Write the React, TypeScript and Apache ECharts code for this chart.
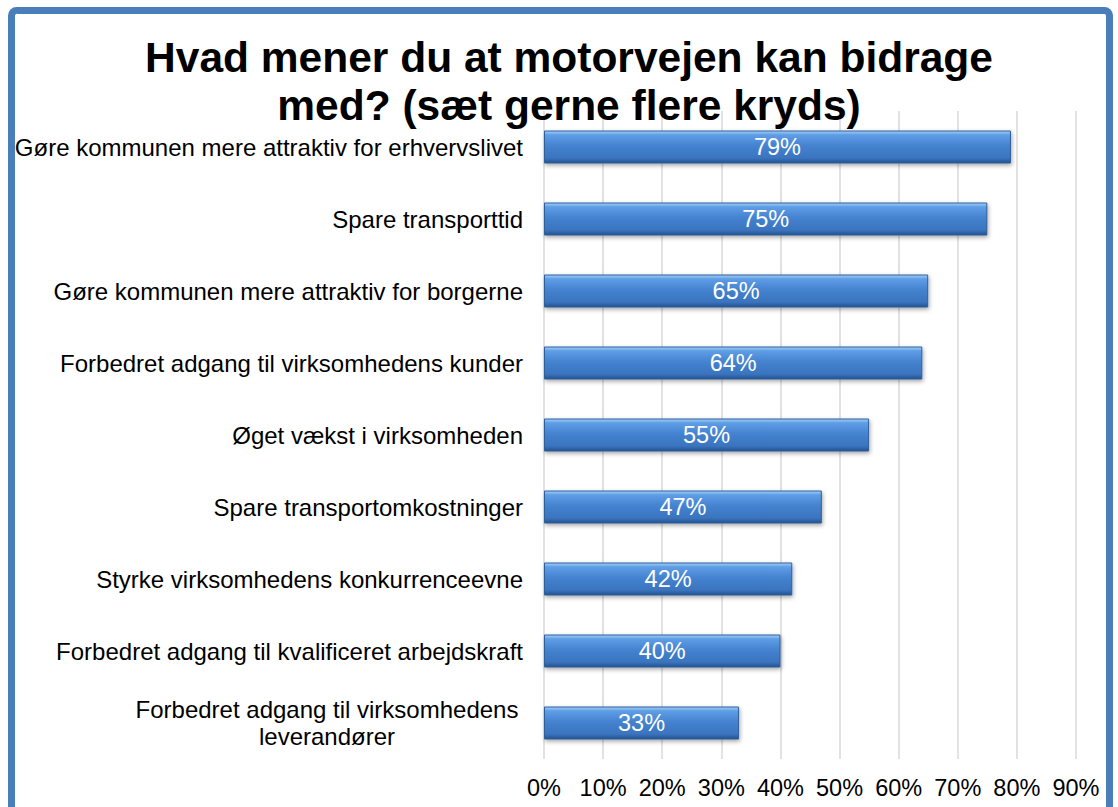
import React, { useEffect, useRef } from "react";
import * as echarts from "echarts";

const titleText = "Hvad mener du at motorvejen kan bidrage\nmed? (sæt gerne flere kryds)";
const categories = [
  "Gøre kommunen mere attraktiv for erhvervslivet",
  "Spare transporttid",
  "Gøre kommunen mere attraktiv for borgerne",
  "Forbedret adgang til virksomhedens kunder",
  "Øget vækst i virksomheden",
  "Spare transportomkostninger",
  "Styrke virksomhedens konkurrenceevne",
  "Forbedret adgang til kvalificeret arbejdskraft",
  "Forbedret adgang til virksomhedens\nleverandører",
];
const values = [79, 75, 65, 64, 55, 47, 42, 40, 33];
const axisMin = 0;
const axisMax = 90;
const axisStep = 10;

const FONT = "Arial, 'Liberation Sans', Helvetica, sans-serif";

export default function App() {
  const ref = useRef<HTMLDivElement>(null);
  useEffect(() => {
    if (!ref.current) return;
    const chart = echarts.init(ref.current, undefined, { renderer: "svg" });
    chart.setOption({
      animation: false,
      backgroundColor: "#ffffff",
      title: {
        text: titleText,
        left: 564,
        textAlign: "center",
        top: 28,
        textStyle: {
          fontFamily: FONT,
          fontSize: 42.5,
          fontWeight: "bold",
          color: "#000000",
          lineHeight: 48,
        },
      },
      graphic: [
        {
          type: "rect",
          z: 100,
          silent: true,
          shape: { x: 11.5, y: 10.5, width: 1098, height: 900, r: 5 },
          style: { fill: "none", stroke: "#4A7EBB", lineWidth: 7 },
        },
      ],
      grid: { left: 544, right: 42, top: 111, bottom: 48, containLabel: false },
      xAxis: {
        type: "value",
        min: axisMin,
        max: axisMax,
        interval: axisStep,
        axisLine: { show: false },
        axisTick: { show: false },
        axisLabel: {
          formatter: "{value}%",
          fontFamily: FONT,
          fontSize: 23.5,
          color: "#000000",
          margin: 17,
        },
        splitLine: { show: true, lineStyle: { color: "#D9D9D9", width: 1.5 } },
      },
      yAxis: {
        type: "category",
        data: categories,
        inverse: true,
        axisLine: { show: false },
        axisTick: { show: false },
        splitLine: { show: false },
        axisLabel: {
          fontFamily: FONT,
          fontSize: 24,
          color: "#000000",
          margin: 21,
          lineHeight: 27,
          formatter: (v: string) => {
            if (v.indexOf("\n") >= 0) {
              return v
                .split("\n")
                .map((l) => "{w|" + l + "}")
                .join("\n");
            }
            return v;
          },
          rich: {
            w: {
              width: 392,
              align: "center",
              fontFamily: FONT,
              fontSize: 24,
              color: "#000000",
              lineHeight: 27,
            },
          },
        },
      },
      series: [
        {
          type: "bar",
          data: values,
          barWidth: 33,
          itemStyle: {
            color: new echarts.graphic.LinearGradient(0, 0, 0, 1, [
              { offset: 0, color: "#A6D0F8" },
              { offset: 0.12, color: "#5F9EE6" },
              { offset: 0.45, color: "#4583D0" },
              { offset: 0.85, color: "#3A74BE" },
              { offset: 1, color: "#23528C" },
            ]),
            borderColor: "#2F5E9A",
            borderWidth: 1,
            shadowColor: "rgba(0,0,0,0.35)",
            shadowBlur: 4,
            shadowOffsetX: 1,
            shadowOffsetY: 2,
          },
          label: {
            show: true,
            position: "inside",
            formatter: "{c}%",
            fontFamily: FONT,
            fontSize: 23.5,
            color: "#ffffff",
          },
        },
      ],
    });
    return () => chart.dispose();
  }, []);
  return (
    <div
      style={{
        position: "fixed",
        left: 0,
        top: 0,
        width: 1118,
        height: 807,
        overflow: "hidden",
      }}
    >
      <div ref={ref} style={{ width: 1118, height: 807 }} />
    </div>
  );
}
